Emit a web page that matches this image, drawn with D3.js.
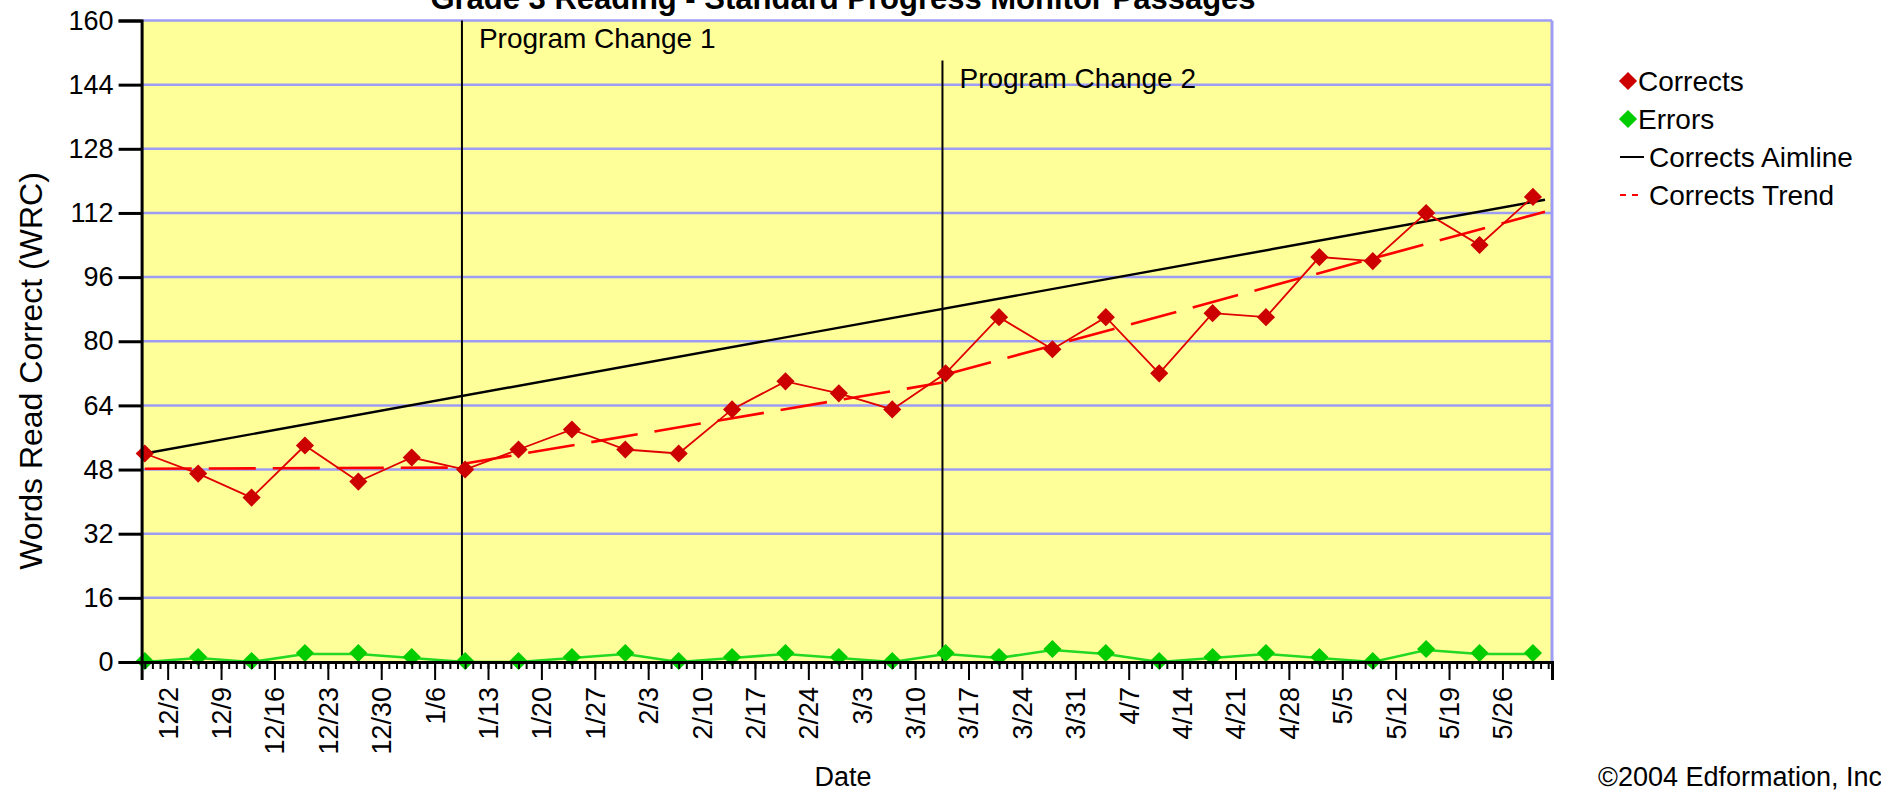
<!DOCTYPE html>
<html>
<head>
<meta charset="utf-8">
<script src="https://cdn.jsdelivr.net/npm/d3@7"></script>
<style>
  body { margin: 0; background: #fff; }
  svg text { font-family: "Liberation Sans", Arial, sans-serif; fill: #000; }
</style>
</head>
<body>
<div id="chart"></div>
<script>
// Chart data
var testDates = ["2002-11-29", "2002-12-06", "2002-12-13", "2002-12-20", "2002-12-27",
  "2003-01-03", "2003-01-10", "2003-01-17", "2003-01-24", "2003-01-31", "2003-02-07",
  "2003-02-14", "2003-02-21", "2003-02-28", "2003-03-07", "2003-03-14", "2003-03-21",
  "2003-03-28", "2003-04-04", "2003-04-11", "2003-04-18", "2003-04-25", "2003-05-02",
  "2003-05-09", "2003-05-16", "2003-05-23", "2003-05-30"];
var corrects = [52, 47, 41, 54, 45, 51, 48, 53, 58, 53, 52, 63, 70, 67, 63,
  72, 86, 78, 86, 72, 87, 86, 101, 100, 112, 104, 116];
var errors = [0, 1, 0, 2, 2, 1, 0, 0, 1, 2, 0, 1, 2, 1, 0,
  2, 1, 3, 2, 0, 1, 2, 1, 0, 3, 2, 2];

// Aimline end points
var aimDates = ["2002-11-29T00:00", "2003-05-31T14:00"];
var aimValues = [52, 115.3];

// Trend line, one segment per phase
var trendStart = ["2002-11-29T00:00", "2003-01-10T00:00", "2003-03-14T00:00"];
var trendEnd = ["2003-01-09T14:00", "2003-03-13T14:00", "2003-05-31T14:00"];
var trendFrom = [48.2, 49.5, 71.7];
var trendTo = [48.5, 69.7, 112.3];

// Program changes
var changeNames = ["Program Change 1", "Program Change 2"];
var changeDates = ["2003-01-09T14:00", "2003-03-13T14:00"];
var changeTops = [160, 150];

// Axis ticks
var xTickLabels = ["12/2", "12/9", "12/16", "12/23", "12/30", "1/6", "1/13", "1/20",
  "1/27", "2/3", "2/10", "2/17", "2/24", "3/3", "3/10", "3/17", "3/24", "3/31", "4/7",
  "4/14", "4/21", "4/28", "5/5", "5/12", "5/19", "5/26"];
var yTicks = [0, 16, 32, 48, 64, 80, 96, 112, 128, 144, 160];

var legendNames = ["Corrects", "Errors", "Corrects Aimline", "Corrects Trend"];

// Layout
var svgWidth = 1881;
var svgHeight = 792;
var plot = { left: 141.6, right: 1552, top: 20.5, bottom: 662 };

var parseDay = d3.utcParse("%Y-%m-%d");
var parseTime = d3.utcParse("%Y-%m-%dT%H:%M");
function tickDate(label) {
  var p = label.split("/");
  var year = +p[0] >= 11 ? 2002 : 2003;
  return new Date(Date.UTC(year, +p[0] - 1, +p[1]));
}

var svg = d3.select("#chart").append("svg")
  .attr("width", svgWidth)
  .attr("height", svgHeight);

var x = d3.scaleUtc()
  .domain([parseTime("2002-11-28T14:00"), parseTime("2003-06-01T12:00")])
  .range([plot.left, plot.right]);

var y = d3.scaleLinear()
  .domain([0, 160])
  .range([plot.bottom, plot.top]);

var points = testDates.map(function(d, i) {
  return { date: parseDay(d), c: corrects[i], e: errors[i] };
});

// Plot background
svg.append("rect")
  .attr("x", plot.left)
  .attr("y", plot.top)
  .attr("width", plot.right - plot.left)
  .attr("height", plot.bottom - plot.top)
  .attr("fill", "#ffff99");

// Horizontal grid
svg.append("g").selectAll("line")
  .data(yTicks.filter(function(v) { return v > 0; }))
  .enter().append("line")
  .attr("x1", plot.left).attr("x2", plot.right)
  .attr("y1", function(v) { return y(v); })
  .attr("y2", function(v) { return y(v); })
  .attr("stroke", "#9d9df5")
  .attr("stroke-width", 2.5);

// right border
svg.append("line")
  .attr("x1", plot.right).attr("x2", plot.right)
  .attr("y1", plot.top).attr("y2", plot.bottom)
  .attr("stroke", "#9d9df5")
  .attr("stroke-width", 3);

// Program change lines
var changes = svg.append("g").selectAll("g")
  .data(changeNames)
  .enter().append("g");

changes.append("line")
  .attr("x1", function(d, i) { return x(parseTime(changeDates[i])); })
  .attr("x2", function(d, i) { return x(parseTime(changeDates[i])); })
  .attr("y1", function(d, i) { return y(changeTops[i]); })
  .attr("y2", plot.bottom)
  .attr("stroke", "#000")
  .attr("stroke-width", 2);

changes.append("text")
  .attr("x", function(d, i) { return x(parseTime(changeDates[i])) + 17; })
  .attr("y", function(d, i) { return y(changeTops[i]) + 27; })
  .attr("font-size", "28px")
  .text(function(d) { return d; });

// Aimline
svg.append("line")
  .attr("x1", x(parseTime(aimDates[0]))).attr("y1", y(aimValues[0]))
  .attr("x2", x(parseTime(aimDates[1]))).attr("y2", y(aimValues[1]))
  .attr("stroke", "#000")
  .attr("stroke-width", 2.4);

// Trend segments
svg.append("g").selectAll("line")
  .data(trendFrom)
  .enter().append("line")
  .attr("x1", function(d, i) { return x(parseTime(trendStart[i])); })
  .attr("x2", function(d, i) { return x(parseTime(trendEnd[i])); })
  .attr("y1", function(d) { return y(d); })
  .attr("y2", function(d, i) { return y(trendTo[i]); })
  .attr("stroke", "#ff0000")
  .attr("stroke-width", 2.6)
  .attr("stroke-dasharray", "47,17");

var diamond = d3.symbol().type(d3.symbolDiamond2).size(210);

// Corrects
var correctLine = d3.line()
  .x(function(d) { return x(d.date); })
  .y(function(d) { return y(d.c); });

svg.append("path")
  .datum(points)
  .attr("d", correctLine)
  .attr("fill", "none")
  .attr("stroke", "#e00000")
  .attr("stroke-width", 1.8);

svg.append("g").selectAll("path")
  .data(points)
  .enter().append("path")
  .attr("d", diamond)
  .attr("transform", function(d) { return "translate(" + x(d.date) + "," + y(d.c) + ")"; })
  .attr("fill", "#cc0000");

// Errors
var errorLine = d3.line()
  .x(function(d) { return x(d.date); })
  .y(function(d) { return y(d.e); });

svg.append("path")
  .datum(points)
  .attr("d", errorLine)
  .attr("fill", "none")
  .attr("stroke", "#22d822")
  .attr("stroke-width", 2.6);

svg.append("g").selectAll("path")
  .data(points)
  .enter().append("path")
  .attr("d", diamond)
  .attr("transform", function(d) { return "translate(" + x(d.date) + "," + (y(d.e) - 1) + ")"; })
  .attr("fill", "#00cc00");

// Axes
var leftAxis = d3.axisLeft(y)
  .tickValues(yTicks)
  .tickSize(23)
  .tickPadding(5);

var yAxisG = svg.append("g")
  .attr("transform", "translate(" + plot.left + ",0)")
  .call(leftAxis);
yAxisG.select(".domain").attr("stroke-width", 3);
yAxisG.selectAll(".tick line").attr("stroke-width", 3);
yAxisG.selectAll("text")
  .attr("font-size", "27px")
  .attr("font-family", "Liberation Sans, Arial, sans-serif");

var minorAxis = d3.axisBottom(x)
  .tickValues(d3.utcDay.range(parseTime("2002-11-29T00:00"), parseTime("2003-06-02T00:00")))
  .tickSize(7)
  .tickFormat("");

var minorG = svg.append("g")
  .attr("transform", "translate(0," + plot.bottom + ")")
  .call(minorAxis);
minorG.select(".domain").remove();
minorG.selectAll(".tick line").attr("stroke-width", 2);

var bottomAxis = d3.axisBottom(x)
  .tickValues(xTickLabels.map(tickDate))
  .tickSize(18)
  .tickFormat(d3.utcFormat("%-m/%-d"));

var xAxisG = svg.append("g")
  .attr("transform", "translate(0," + plot.bottom + ")")
  .call(bottomAxis);
xAxisG.select(".domain").attr("stroke-width", 3);
xAxisG.selectAll(".tick line").attr("stroke-width", 2);
xAxisG.selectAll("text")
  .attr("font-size", "27px")
  .attr("font-family", "Liberation Sans, Arial, sans-serif")
  .attr("text-anchor", "end")
  .attr("transform", "rotate(-90)")
  .attr("x", -25)
  .attr("y", 0)
  .attr("dy", "0.35em");

// Axis titles
svg.append("text")
  .attr("transform", "rotate(-90)")
  .attr("x", -371)
  .attr("y", 42)
  .attr("text-anchor", "middle")
  .attr("font-size", "32px")
  .text("Words Read Correct (WRC)");

svg.append("text")
  .attr("x", 843)
  .attr("y", 786)
  .attr("text-anchor", "middle")
  .attr("font-size", "27px")
  .text("Date");

// title sits partly above the page edge, as in the source image
svg.append("text")
  .attr("x", 843)
  .attr("y", 9)
  .attr("text-anchor", "middle")
  .attr("font-size", "31px")
  .attr("font-weight", "bold")
  .text("Grade 3 Reading - Standard Progress Monitor Passages");

svg.append("text")
  .attr("x", 1598)
  .attr("y", 786)
  .attr("font-size", "27px")
  .text("\u00a92004 Edformation, Inc");

// Legend
var legend = svg.append("g").selectAll("g")
  .data(legendNames)
  .enter().append("g")
  .attr("transform", function(d, i) { return "translate(1620," + (81 + i * 38) + ")"; });

legend.filter(function(d, i) { return i < 2; })
  .append("path")
  .attr("d", diamond)
  .attr("transform", "translate(8,0)")
  .attr("fill", function(d, i) { return i === 0 ? "#cc0000" : "#00cc00"; });

legend.filter(function(d, i) { return i >= 2; })
  .append("line")
  .attr("x1", 0).attr("x2", 24)
  .attr("stroke", function(d, i) { return i === 0 ? "#000" : "#ff0000"; })
  .attr("stroke-width", 2)
  .attr("stroke-dasharray", function(d, i) { return i === 0 ? null : "6,6"; });

legend.append("text")
  .attr("x", function(d, i) { return i < 2 ? 18 : 29; })
  .attr("y", 10)
  .attr("font-size", "28px")
  .text(function(d) { return d; });
</script>
</body>
</html>
